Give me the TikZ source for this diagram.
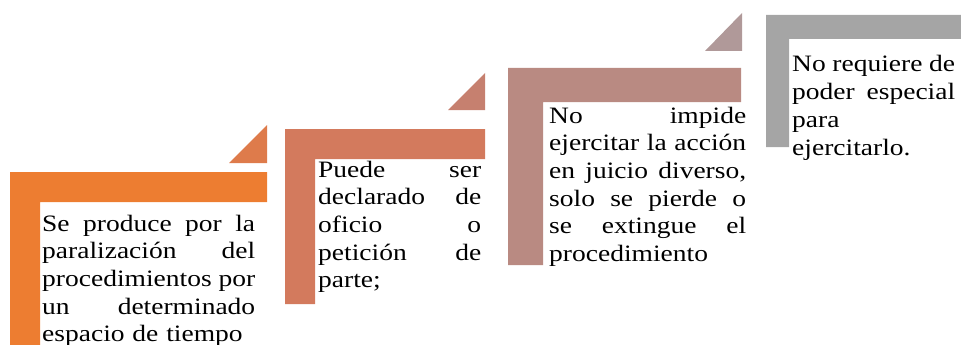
\documentclass[tikz,border=0pt]{standalone}
\usepackage{fontspec}
\setmainfont{Liberation Serif}[FakeStretch=1.17]
\usetikzlibrary{positioning}
\definecolor{stepA}{HTML}{ED7D31}
\definecolor{triA}{HTML}{DE7B4B}
\definecolor{stepB}{HTML}{D37A5D}
\definecolor{triB}{HTML}{C6806F}
\definecolor{stepC}{HTML}{B98A82}
\definecolor{triC}{HTML}{B09999}
\definecolor{stepD}{HTML}{A5A5A5}
\newcommand{\justline}[1]{{\spaceskip=0pt\xspaceskip=0pt\makebox[\hsize][s]{#1}}}

\begin{document}
\begin{tikzpicture}[x=1pt, y=-1pt,
  steptext/.style={anchor=base west, inner sep=0pt, align=left,
    font=\fontsize{23.5}{27.7}\selectfont}]
\useasboundingbox (0,0) rectangle (961,345);
\clip (0,0) rectangle (961,345);

% corner shapes and small triangles
\fill[stepA] (10,172) -- (267,172) -- (267,202) -- (40,202) -- (40,350) -- (10,350) -- cycle;
\fill[triA] (229,163) -- (267,125) -- (267,163) -- cycle;
\fill[stepB] (285,129) -- (485,129) -- (485,159) -- (315,159) -- (315,304) -- (285,304) -- cycle;
\fill[triB] (448,110) -- (485,73) -- (485,110) -- cycle;
\fill[stepC] (508,68) -- (741,68) -- (741,102) -- (543,102) -- (543,265) -- (508,265) -- cycle;
\fill[triC] (705,51) -- (742,13) -- (742,51) -- cycle;
\fill[stepD] (766,15) -- (970,15) -- (970,39) -- (789,39) -- (789,147) -- (766,147) -- cycle;

% texts
\node[steptext, text width=213pt] (paso1) at (42,231)
  {\justline{Se produce por la}\\\justline{paralización del}\\\justline{procedimientos por}\\\justline{un determinado}\\espacio de tiempo};
\node[steptext, text width=163pt] (paso2) at (318,177)
  {\justline{Puede ser}\\\justline{declarado de}\\\justline{oficio o}\\\justline{petición de}\\parte;};
\node[steptext, text width=197pt] (paso3) at (549,123)
  {\justline{No impide}\\\justline{ejercitar la acción}\\\justline{en juicio diverso,}\\\justline{solo se pierde o}\\\justline{se extingue el}\\procedimiento};
\node[steptext, text width=163pt] (paso4) at (792,72)
  {\justline{No requiere de}\\\justline{poder especial}\\para\\ejercitarlo.};

\end{tikzpicture}
\end{document}
